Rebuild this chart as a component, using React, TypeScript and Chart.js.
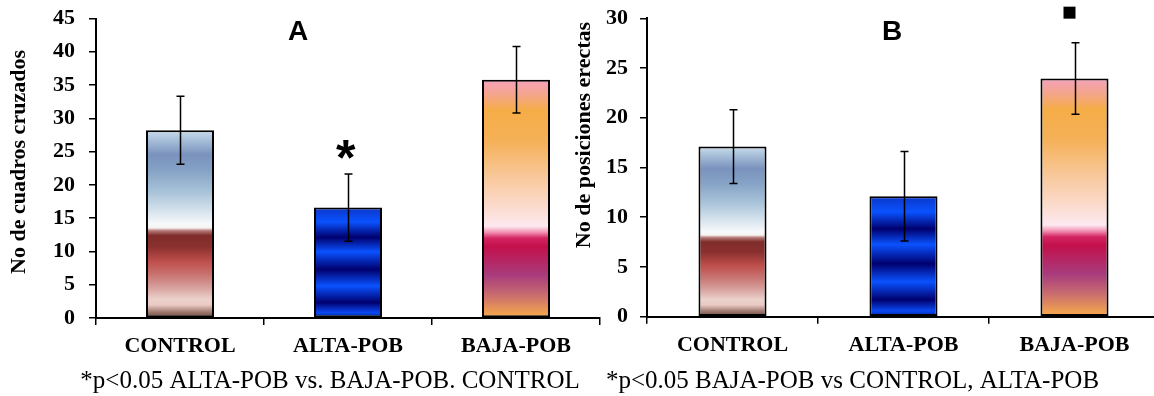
import React, { useEffect, useRef } from "react";
import { Chart, registerables } from "chart.js";
Chart.register(...registerables);

// ---------- data ----------
const categories = ["CONTROL", "ALTA-POB", "BAJA-POB"];

const valuesA = [28.2, 16.6, 35.8];
const errorsA = [5.1, 5.05, 5.0];
const yMaxA = 45;
const yStepA = 5;

const valuesB = [17.1, 12.1, 23.95];
const errorsB = [3.7, 4.5, 3.6];
const yMaxB = 30;
const yStepB = 5;

const titleA = "A";
const titleB = "B";
const yTitleA = "No de cuadros cruzados";
const yTitleB = "No de posiciones erectas";
const captionA = "*p<0.05 ALTA-POB vs. BAJA-POB. CONTROL";
const captionB = "*p<0.05 BAJA-POB vs CONTROL, ALTA-POB";

// ---------- styles ----------
const STOPS_CONTROL: [number, string][] = [
  [0, "#c9dcea"],
  [0.05, "#a9c0da"],
  [0.13, "#7a92bd"],
  [0.22, "#86a4c6"],
  [0.33, "#a9c3d9"],
  [0.43, "#d6e3ed"],
  [0.5, "#f7f9fb"],
  [0.52, "#f7f4f3"],
  [0.535, "#b57a78"],
  [0.56, "#7f2c2b"],
  [0.62, "#8a302e"],
  [0.7, "#bf4f4c"],
  [0.77, "#c87471"],
  [0.84, "#d8a29e"],
  [0.9, "#ecd1cb"],
  [0.93, "#e9cbc4"],
  [0.97, "#9c756b"],
  [1, "#6c463e"],
];
const STOPS_ALTA: [number, string][] = [
  [0, "#0a36c8"],
  [0.13, "#0a52ff"],
  [0.27, "#00006e"],
  [0.4, "#0a52ff"],
  [0.56, "#00006e"],
  [0.71, "#0a52ff"],
  [0.86, "#00006e"],
  [0.95, "#0a48f0"],
  [1, "#0026a0"],
];
const STOPS_BAJA: [number, string][] = [
  [0, "#f5a2bb"],
  [0.06, "#f4a58e"],
  [0.13, "#f5ad47"],
  [0.26, "#f5b159"],
  [0.4, "#f8c797"],
  [0.54, "#fbdcd0"],
  [0.615, "#fde9f1"],
  [0.64, "#f391b3"],
  [0.665, "#d22462"],
  [0.7, "#c3104b"],
  [0.82, "#a83b7c"],
  [0.9, "#c76a70"],
  [0.98, "#f0a050"],
  [1, "#f0a24e"],
];
const BAR_STOPS = [STOPS_CONTROL, STOPS_ALTA, STOPS_BAJA];

const SERIF = "'Liberation Serif', 'Times New Roman', serif";
const SANS = "'Liberation Sans', Arial, sans-serif";

type Layout = {
  canvasLeft: number;
  canvasWidth: number;
  yAxisWidth: number;
  xAxisHeight: number;
  padTop: number;
  padRight: number;
  tickPad: number;
  letterX: number;
  yTitleBaseX: number;
  yTitleCenterY: number;
  captionX: number;
  markerType: "asterisk" | "square";
  markerIndex: number;
  markerGap: number;
  markerDx: number;
};

function makeOverlay(
  values: number[],
  errors: number[],
  letter: string,
  yTitle: string,
  caption: string,
  L: Layout
) {
  return {
    id: "overlay",
    afterDatasetsDraw(chart: any) {
      const ctx = chart.ctx as CanvasRenderingContext2D;
      const meta = chart.getDatasetMeta(0);
      const y = chart.scales.y;
      ctx.save();
      ctx.strokeStyle = "#000";
      ctx.lineWidth = 1.5;
      meta.data.forEach((bar: any, i: number) => {
        const v = values[i];
        const e = errors[i];
        const yt = y.getPixelForValue(v + e);
        const yb = y.getPixelForValue(v - e);
        const x = Math.round(bar.x) + 0.5;
        ctx.beginPath();
        ctx.moveTo(x, yt);
        ctx.lineTo(x, yb);
        ctx.moveTo(x - 4, yt);
        ctx.lineTo(x + 4, yt);
        ctx.moveTo(x - 4, yb);
        ctx.lineTo(x + 4, yb);
        ctx.stroke();
      });
      const mb = meta.data[L.markerIndex];
      const my = y.getPixelForValue(values[L.markerIndex] + errors[L.markerIndex]) - L.markerGap;
      const mx = mb.x + L.markerDx;
      ctx.fillStyle = "#000";
      if (L.markerType === "square") {
        ctx.fillRect(mx - 6, my - 6, 12, 12);
      } else {
        ctx.font = `bold 50px ${SANS}`;
        const m = ctx.measureText("*");
        const w = m.actualBoundingBoxRight + m.actualBoundingBoxLeft;
        const h = m.actualBoundingBoxAscent + m.actualBoundingBoxDescent;
        ctx.textAlign = "left";
        ctx.textBaseline = "alphabetic";
        ctx.fillText(
          "*",
          mx - w / 2 + m.actualBoundingBoxLeft,
          my + h / 2 - m.actualBoundingBoxDescent
        );
      }
      ctx.restore();
    },
    afterDraw(chart: any) {
      const ctx = chart.ctx as CanvasRenderingContext2D;
      ctx.save();
      ctx.fillStyle = "#000";
      ctx.font = `bold 28px ${SANS}`;
      ctx.textAlign = "center";
      ctx.textBaseline = "alphabetic";
      ctx.fillText(letter, L.letterX, 40);
      ctx.save();
      ctx.translate(L.yTitleBaseX, L.yTitleCenterY);
      ctx.rotate(-Math.PI / 2);
      ctx.font = `bold 22px ${SERIF}`;
      ctx.textAlign = "center";
      ctx.textBaseline = "alphabetic";
      ctx.fillText(yTitle, 0, 0);
      ctx.restore();
      ctx.font = `25px ${SERIF}`;
      ctx.textAlign = "center";
      ctx.textBaseline = "alphabetic";
      ctx.fillText(caption, L.captionX, 388);
      ctx.restore();
    },
  };
}

function makeConfig(
  values: number[],
  errors: number[],
  yMax: number,
  yStep: number,
  letter: string,
  yTitle: string,
  caption: string,
  L: Layout,
  barPct: number
): any {
  return {
    type: "bar",
    data: {
      labels: categories,
      datasets: [
        {
          data: values,
          borderColor: "#000",
          borderWidth: 2,
          borderSkipped: false,
          barPercentage: barPct,
          categoryPercentage: 1,
          backgroundColor: (c: any) => {
            const chart = c.chart;
            const ys = chart.scales && chart.scales.y;
            if (!ys || c.raw == null) return "#888";
            const top = ys.getPixelForValue(c.raw);
            const bottom = ys.getPixelForValue(0);
            if (!isFinite(top) || !isFinite(bottom) || bottom <= top) return "#888";
            const g = chart.ctx.createLinearGradient(0, top, 0, bottom);
            BAR_STOPS[c.dataIndex].forEach(([o, col]) => g.addColorStop(o, col));
            return g;
          },
        },
      ],
    },
    options: {
      responsive: false,
      animation: false,
      devicePixelRatio: 1,
      events: [],
      layout: { padding: { top: L.padTop, right: L.padRight, left: 0, bottom: 0 } },
      plugins: { legend: { display: false }, tooltip: { enabled: false }, title: { display: false } },
      scales: {
        x: {
          offset: true,
          grid: {
            offset: true,
            drawOnChartArea: false,
            drawTicks: true,
            tickLength: 7,
            color: "#000",
            lineWidth: 1.5,
          },
          border: { display: true, color: "#000", width: 2 },
          ticks: {
            color: "#000",
            font: { family: SERIF, size: 22, weight: "bold" },
            padding: 8,
            maxRotation: 0,
            autoSkip: false,
          },
          afterFit: (s: any) => {
            s.height = L.xAxisHeight;
          },
        },
        y: {
          min: 0,
          max: yMax,
          grid: {
            drawOnChartArea: false,
            drawTicks: true,
            tickLength: 7,
            color: "#000",
            lineWidth: 1.5,
          },
          border: { display: true, color: "#000", width: 2 },
          ticks: {
            stepSize: yStep,
            color: "#000",
            font: { family: SERIF, size: 22, weight: "bold" },
            padding: L.tickPad,
          },
          afterFit: (s: any) => {
            s.width = L.yAxisWidth;
            s.paddingTop = 0;
            s.paddingBottom = 0;
          },
        },
      },
    },
    plugins: [makeOverlay(values, errors, letter, yTitle, caption, L)],
  };
}

const LAYOUT_A: Layout = {
  canvasLeft: 0,
  canvasWidth: 660,
  yAxisWidth: 96,
  xAxisHeight: 78,
  padTop: 18.5,
  padRight: 60,
  tickPad: 14,
  letterX: 298,
  yTitleBaseX: 25,
  yTitleCenterY: 162,
  captionX: 330,
  markerType: "asterisk",
  markerIndex: 1,
  markerGap: 24,
  markerDx: -2,
};

const LAYOUT_B: Layout = {
  canvasLeft: 560,
  canvasWidth: 610,
  yAxisWidth: 87,
  xAxisHeight: 79.3,
  padTop: 18.3,
  padRight: 10,
  tickPad: 12,
  letterX: 332,
  yTitleBaseX: 30,
  yTitleCenterY: 135,
  captionX: 292.5,
  markerType: "square",
  markerIndex: 2,
  markerGap: 30,
  markerDx: -5,
};

function Panel(props: { cfg: any; L: Layout }) {
  const ref = useRef<HTMLCanvasElement | null>(null);
  useEffect(() => {
    if (!ref.current) return;
    const chart = new Chart(ref.current, props.cfg);
    return () => chart.destroy();
  }, []);
  return (
    <canvas
      ref={ref}
      width={props.L.canvasWidth}
      height={396}
      style={{
        position: "absolute",
        left: props.L.canvasLeft,
        top: 0,
        width: props.L.canvasWidth,
        height: 396,
      }}
    />
  );
}

export default function App() {
  const cfgA = makeConfig(valuesA, errorsA, yMaxA, yStepA, titleA, yTitleA, captionA, LAYOUT_A, 0.405);
  const cfgB = makeConfig(valuesB, errorsB, yMaxB, yStepB, titleB, yTitleB, captionB, LAYOUT_B, 0.398);
  return (
    <div
      style={{
        position: "fixed",
        left: 0,
        top: 0,
        width: 1154,
        height: 396,
        overflow: "hidden",
        background: "#fff",
      }}
    >
      <Panel cfg={cfgA} L={LAYOUT_A} />
      <Panel cfg={cfgB} L={LAYOUT_B} />
    </div>
  );
}
